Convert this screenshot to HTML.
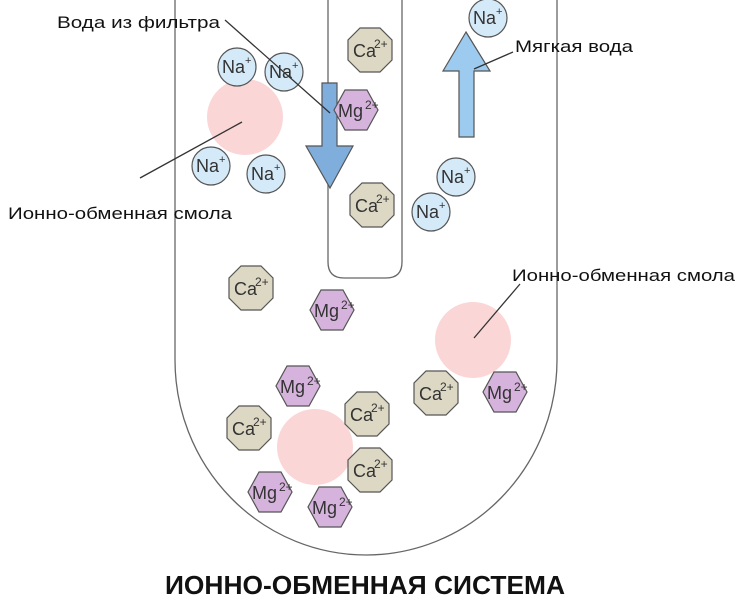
<!DOCTYPE html>
<html><head><meta charset="utf-8"><style>body{margin:0;background:#fff}svg{display:block}text{font-family:"Liberation Sans",sans-serif}</style></head><body>
<svg width="750" height="604" viewBox="0 0 750 604" xmlns="http://www.w3.org/2000/svg">
<defs>
<g id="na"><circle r="19" fill="#d4eaf8" stroke="#555" stroke-width="1.2"/><text x="-15" y="6" font-size="18" fill="#333">Na</text><text x="8" y="-3" font-size="11" fill="#333">+</text></g>
<g id="ca"><polygon points="-10,-22 10,-22 22,-10 22,10 10,22 -10,22 -22,10 -22,-10" fill="#ddd8c4" stroke="#555" stroke-width="1.2"/><text x="-17" y="7" font-size="18" fill="#333">Ca</text><text x="4" y="-2" font-size="12" fill="#333">2+</text></g>
<g id="mg"><polygon points="-11,-20 11,-20 22,0 11,20 -11,20 -22,0" fill="#d6b3dc" stroke="#555" stroke-width="1.2"/><text x="-18" y="7" font-size="18" fill="#333">Mg</text><text x="9" y="-1" font-size="12" fill="#333">2+</text></g>
</defs>
<path d="M175,0 V360 A191,195 0 0 0 557,360 V0" fill="none" stroke="#666" stroke-width="1.3"/>
<path d="M328,0 V262 Q328,278 344,278 H386 Q402,278 402,262 V0" fill="none" stroke="#666" stroke-width="1.3"/>
<circle cx="245" cy="117" r="38" fill="#fbd6d6"/>
<circle cx="473" cy="340" r="38" fill="#fbd6d6"/>
<circle cx="315" cy="447" r="38" fill="#fbd6d6"/>
<polygon points="322,83 337,83 337,146 353,146 330,188 306,146 322,146" fill="#7faedd" stroke="#555" stroke-width="1.2"/>
<polygon points="466,32 490,71 474,71 474,137 459,137 459,71 443,71" fill="#9ccbef" stroke="#555" stroke-width="1.2"/>
<use href="#na" x="237" y="67"/><use href="#na" x="284" y="72"/><use href="#na" x="211" y="166"/><use href="#na" x="266" y="174"/>
<use href="#na" x="488" y="18"/><use href="#na" x="456" y="177"/><use href="#na" x="431" y="212"/>
<use href="#ca" x="370" y="50"/><use href="#ca" x="372" y="205"/><use href="#ca" x="251" y="288"/><use href="#ca" x="436" y="393"/><use href="#ca" x="249" y="428"/><use href="#ca" x="367" y="414"/><use href="#ca" x="370" y="470"/>
<use href="#mg" x="356" y="110"/><use href="#mg" x="332" y="310"/><use href="#mg" x="298" y="386"/><use href="#mg" x="505" y="392"/><use href="#mg" x="270" y="492"/><use href="#mg" x="330" y="507"/>
<g stroke="#333" stroke-width="1.3">
<line x1="225" y1="20" x2="330" y2="113"/>
<line x1="513" y1="52" x2="474" y2="69"/>
<line x1="140" y1="178" x2="242" y2="122"/>
<line x1="520" y1="284" x2="474" y2="338"/>
</g>
<g font-size="17" fill="#111">
<text x="57" y="28" textLength="163" lengthAdjust="spacingAndGlyphs">Вода из фильтра</text>
<text x="515" y="52" textLength="118" lengthAdjust="spacingAndGlyphs">Мягкая вода</text>
<text x="8" y="219" textLength="224" lengthAdjust="spacingAndGlyphs">Ионно-обменная смола</text>
<text x="512" y="281" textLength="223" lengthAdjust="spacingAndGlyphs">Ионно-обменная смола</text>
</g>
<text x="165" y="594" font-size="26" font-weight="bold" fill="#111" textLength="400" lengthAdjust="spacingAndGlyphs">ИОННО-ОБМЕННАЯ СИСТЕМА</text>
</svg>
</body></html>
